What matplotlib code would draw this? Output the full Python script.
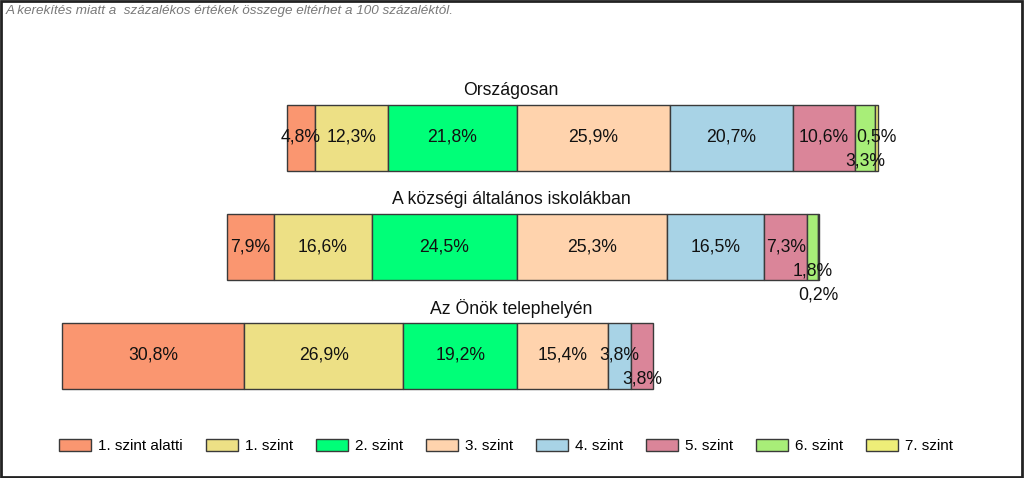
import numpy as np
import matplotlib
matplotlib.use("Agg")
import matplotlib.pyplot as plt
from matplotlib.patches import Rectangle, Patch

plt.rcParams['font.family'] = ['Liberation Sans', 'DejaVu Sans']

# ---- data ----
groups = ["Országosan", "A községi általános iskolákban", "Az Önök telephelyén"]
levels = ["1. szint alatti", "1. szint", "2. szint", "3. szint",
          "4. szint", "5. szint", "6. szint", "7. szint"]
orszagosan = [4.8, 12.3, 21.8, 25.9, 20.7, 10.6, 3.3, 0.5]
kozseg = [7.9, 16.6, 24.5, 25.3, 16.5, 7.3, 1.8, 0.2]
telephely = [30.8, 26.9, 19.2, 15.4, 3.8, 3.8, 0.0, 0.0]
values = [orszagosan, kozseg, telephely]
colors = ["#FA9670", "#EDE085", "#00FF78", "#FFD3AD",
          "#A8D3E6", "#DA8599", "#A8EE78", "#EEEE78"]
n_below = 3  # levels drawn left of the zero line
note = "A kerekítés miatt a  százalékos értékek összege eltérhet a 100 százaléktól."

W, H = 1024, 478
fig = plt.figure(figsize=(W / 100, H / 100), dpi=100)
ax = fig.add_axes([0, 0, 1, 1])
scale = 5.915      # px per percent
zero_px = 517
row_px0, row_step = 137.5, 109
ax.set_xlim(-zero_px / scale, (W - zero_px) / scale)
ax.set_ylim((H - row_px0) / row_step, -row_px0 / row_step)
ax.axis("off")

bar_h = 66 / row_step
edge = "#3a3a3a"
labels = []
for r, vals in enumerate(values):
    start = -sum(vals[:n_below])
    x = start
    row_labels = []
    for i, v in enumerate(vals):
        if v <= 0:
            continue
        ax.barh(r, v, left=x, height=bar_h, color=colors[i],
                edgecolor=edge, linewidth=1)
        t = ax.text(x + v / 2, r, f"{v:.1f}%".replace(".", ","),
                    ha="center", va="center", fontsize=12.7, color="#111111")
        row_labels.append(t)
        x += v
    labels.append(row_labels)
    ax.text(-1.0, r - 47 / row_step, groups[r], ha="center", va="center",
            fontsize=12.7, color="#111111")

# stagger overlapping labels downward
fig.canvas.draw()
renderer = fig.canvas.get_renderer()
step = 24 / row_step
for r, row_labels in enumerate(labels):
    placed = {}
    for t in row_labels:
        bb = t.get_window_extent(renderer)
        lvl = 0
        while any(not (bb.x0 >= p.x1 - 1 or bb.x1 <= p.x0 + 1)
                  for p in placed.get(lvl, [])):
            lvl += 1
        placed.setdefault(lvl, []).append(bb)
        if lvl:
            t.set_y(r + lvl * step)

# legend
handles = [Patch(facecolor=c, edgecolor=edge, linewidth=1) for c in colors]
fig.legend(handles, levels, loc="center", ncol=8,
           bbox_to_anchor=(506 / W, 1 - 446 / H), frameon=False,
           fontsize=11, handlelength=2.1, handleheight=0.85,
           handletextpad=0.45, columnspacing=1.5)

# note
fig.text(6 / W, 1 - 11 / H, note, ha="left", va="center", fontsize=9.7,
         style="italic", color="#7a7a7a")

# frame
fig.patches.append(Rectangle((0.5 / W, 1.5 / H), (W - 2.5) / W, (H - 2.5) / H,
                             transform=fig.transFigure, fill=False,
                             edgecolor="#222222", linewidth=2))

fig.savefig("out.png", dpi=100)
